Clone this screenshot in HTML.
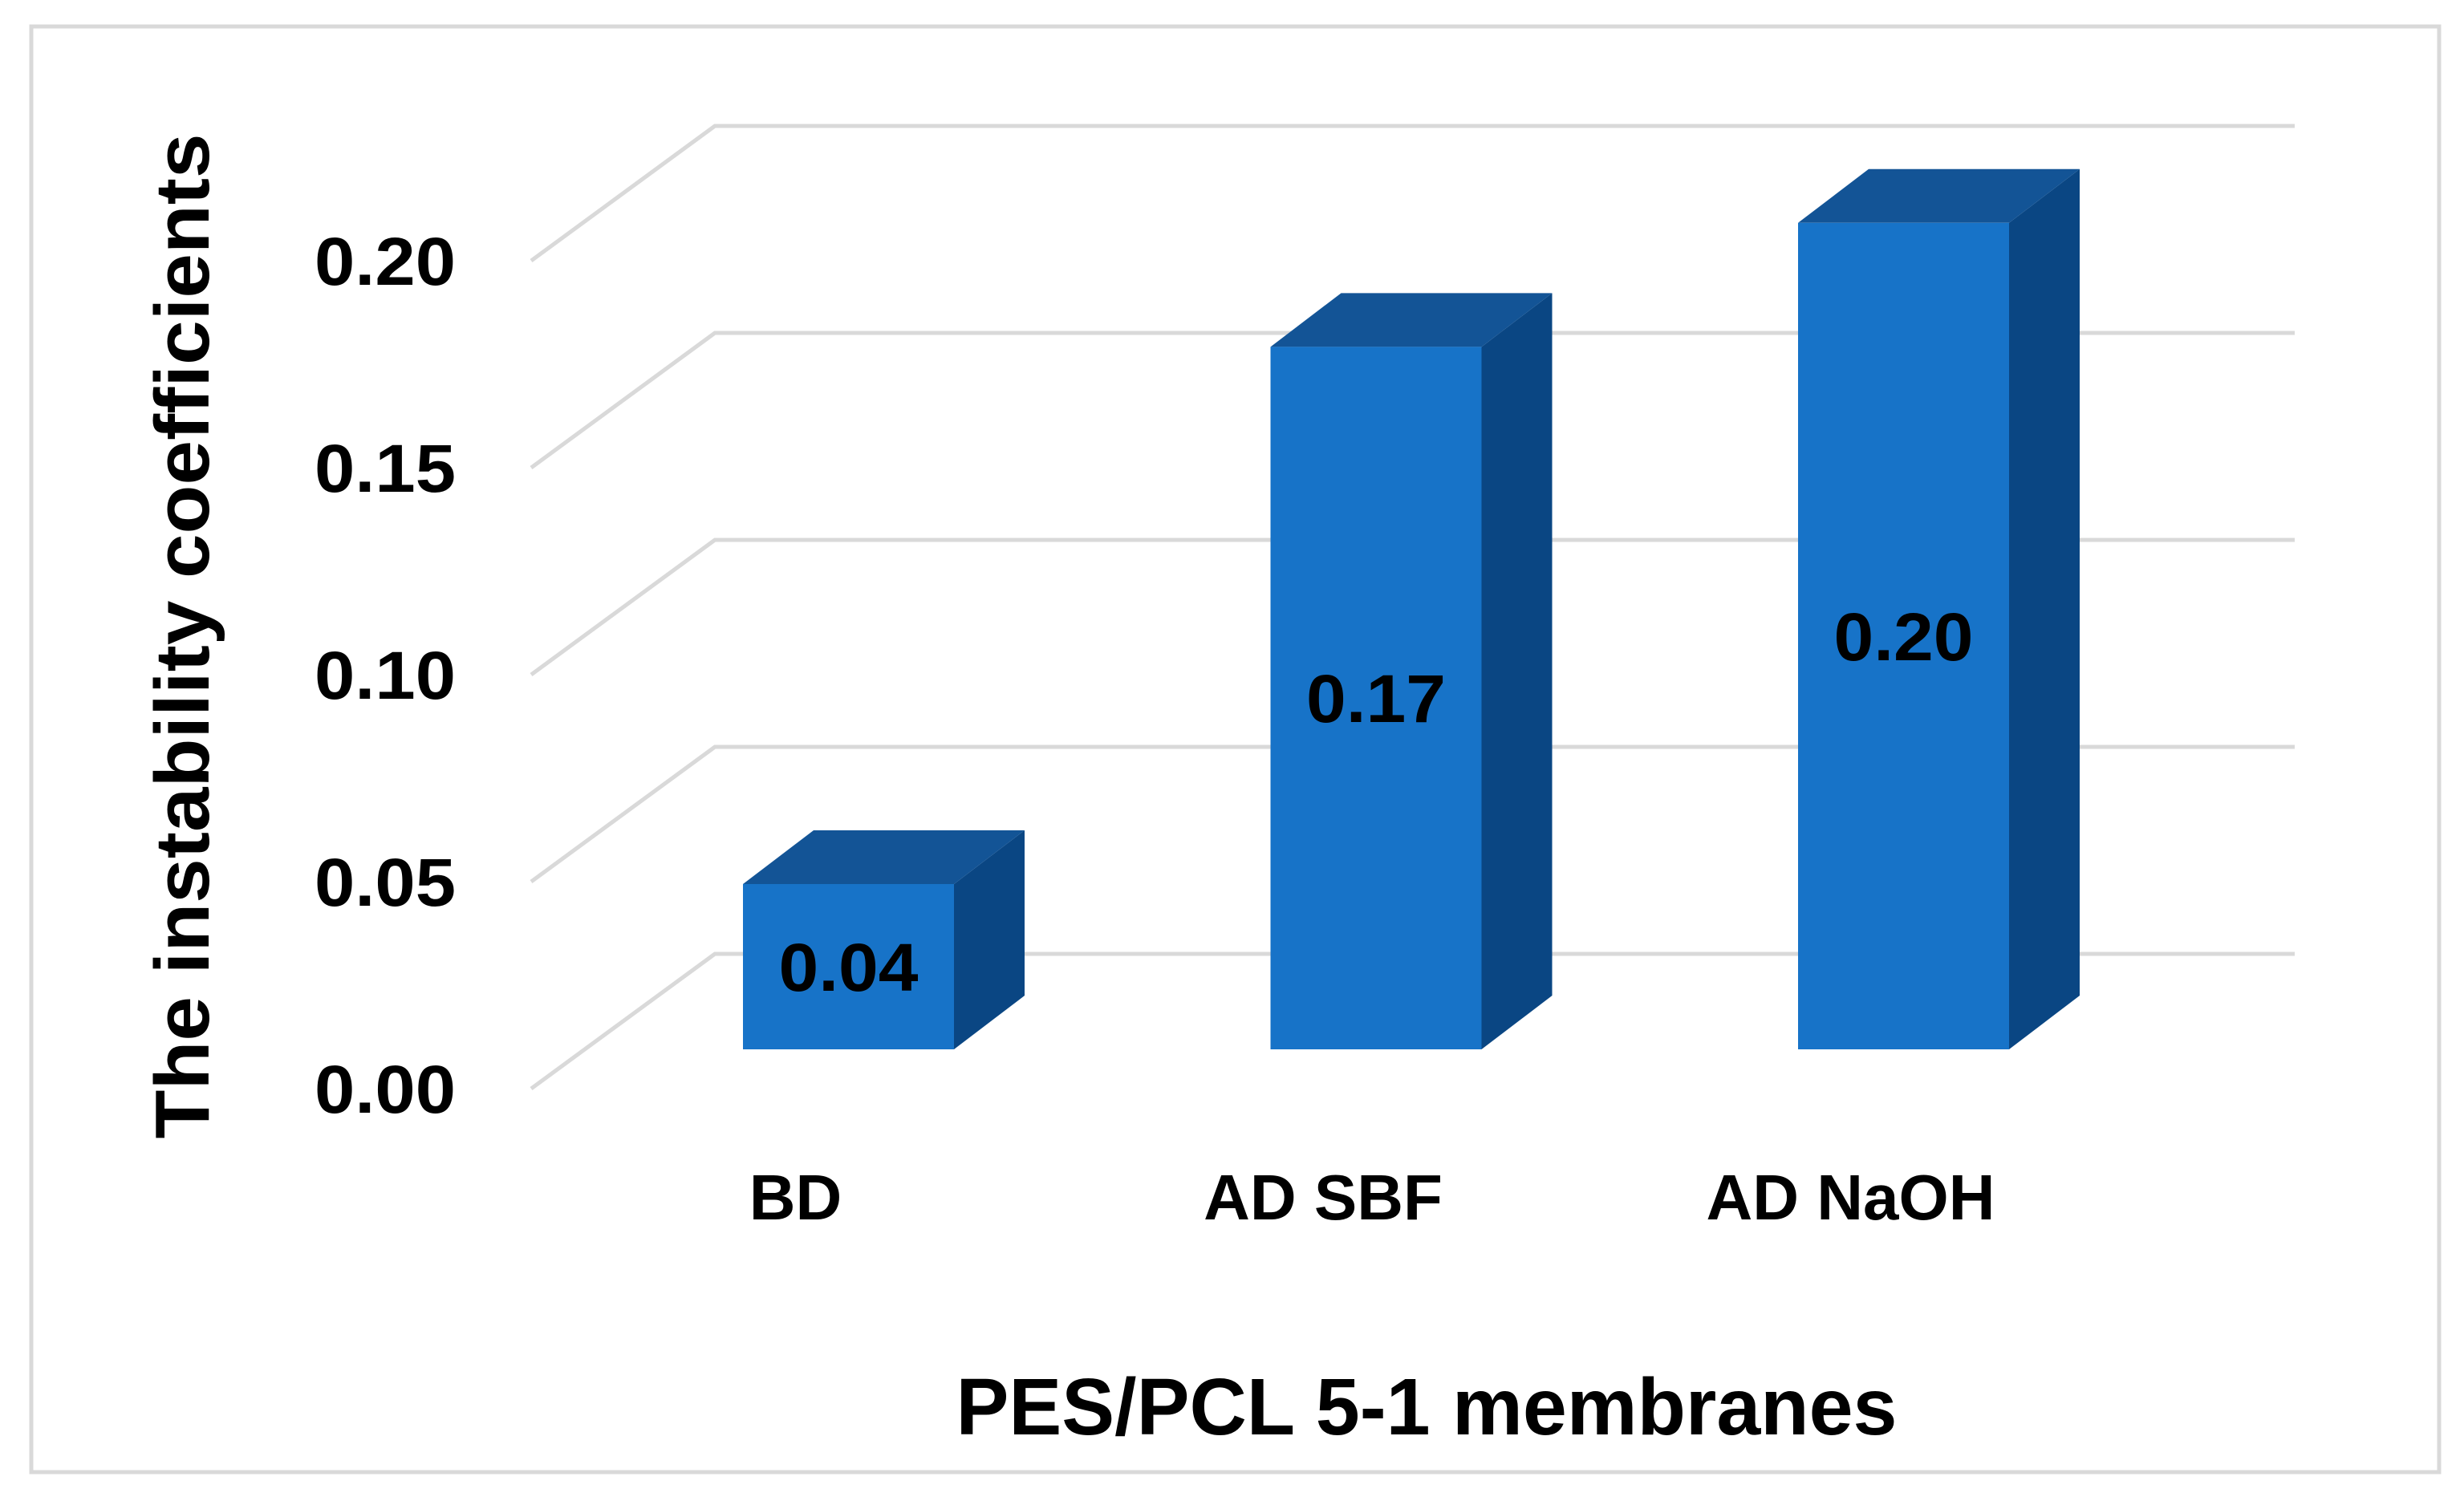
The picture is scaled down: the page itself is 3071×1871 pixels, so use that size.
<!DOCTYPE html>
<html><head><meta charset="utf-8"><style>
html,body{margin:0;padding:0;background:#fff}
svg{display:block}
text{font-family:"Liberation Sans",sans-serif;font-weight:bold;fill:#000}
</style></head><body>
<svg id="chart" width="3071" height="1871" viewBox="0 0 3071 1871" xmlns="http://www.w3.org/2000/svg">
<rect x="39" y="33" width="3001" height="1802" fill="#fff" stroke="#d9d9d9" stroke-width="5"/>
<g id="grid"></g>
<g id="ticks"></g>
<g id="bars"></g>
<g id="cats"></g>
<text x="1778" y="1788" text-anchor="middle" font-size="100" textLength="1173" lengthAdjust="spacingAndGlyphs">PES/PCL 5-1 membranes</text>
<text transform="translate(260,793) rotate(-90)" text-anchor="middle" font-size="96" textLength="1253" lengthAdjust="spacingAndGlyphs">The instability coefficients</text>
</svg>
<script>
const categories = ["BD", "AD SBF", "AD NaOH"];
const values = [0.04, 0.17, 0.20];
const valueLabels = ["0.04", "0.17", "0.20"];
const tickValues = [0, 0.05, 0.10, 0.15, 0.20];
const tickLabels = ["0.00", "0.05", "0.10", "0.15", "0.20"];

const NS = "http://www.w3.org/2000/svg";
const frontBase = 1357, frontPx = 5160;
const gx0 = 662, gx1 = 891, gx2 = 2860, gdy = -168;
const barBase = 1308, barPx = 5151;
const gridY = v => frontBase - v * frontPx;
const barY = v => barBase - v * barPx;
const barX0 = 926, barStep = 657.5, barW = 263, sdx = 88, sdy = -67;
const bx = i => barX0 + i * barStep;

function mk(tag, attrs, parent) {
  const e = document.createElementNS(NS, tag);
  for (const k in attrs) e.setAttribute(k, attrs[k]);
  parent.appendChild(e);
  return e;
}
const grid = document.getElementById('grid');
const ticks = document.getElementById('ticks');
tickValues.forEach((v, i) => {
  const y = gridY(v);
  const p = mk('polyline', {points: `${gx0},${y} ${gx1},${y+gdy} ${gx2},${y+gdy}`, fill: 'none', stroke: '#d9d9d9', 'stroke-width': 5}, grid);
  
  
  const t = mk('text', {x: 568, y: y + 30, 'text-anchor': 'end', 'font-size': 84, textLength: 176, lengthAdjust: 'spacingAndGlyphs'}, ticks);
  t.textContent = tickLabels[i];
  
  
});
const bars = document.getElementById('bars');
const cats = document.getElementById('cats');
values.forEach((v, i) => {
  const x = bx(i), top = barY(v), b = barBase;
  const g = mk('g', {}, bars);
  
  
  mk('polygon', {points: `${x+barW},${top} ${x+barW+sdx},${top+sdy} ${x+barW+sdx},${b+sdy} ${x+barW},${b}`, fill: '#0a4683'}, g);
  mk('polygon', {points: `${x},${top} ${x+sdx},${top+sdy} ${x+barW+sdx},${top+sdy} ${x+barW},${top}`, fill: '#135496'}, g);
  mk('rect', {x: x, y: top, width: barW, height: b - top, fill: '#1773c8'}, g);
  const lbl = mk('text', {x: x + barW/2, y: (top + b)/2 + 30, 'text-anchor': 'middle', 'font-size': 84, textLength: 174, lengthAdjust: 'spacingAndGlyphs'}, g);
  lbl.textContent = valueLabels[i];
  
  
  const c = mk('text', {x: x + barW/2 - 66, y: 1520, 'text-anchor': 'middle', 'font-size': 80}, cats);
  c.textContent = categories[i];
  
  
});
</script>
</body></html>
